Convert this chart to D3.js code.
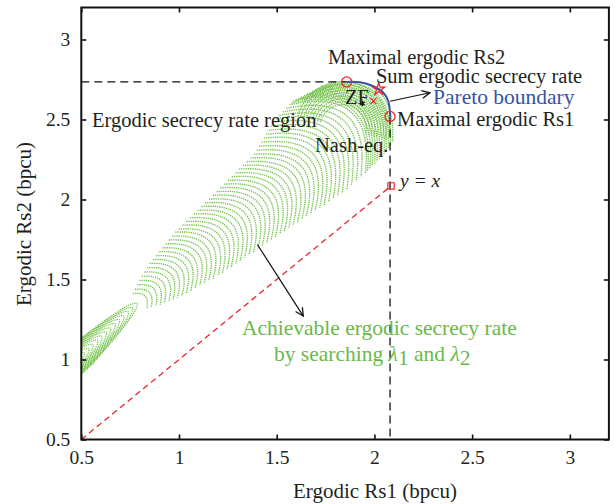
<!DOCTYPE html>
<html>
<head>
<meta charset="utf-8">
<script src="https://cdn.jsdelivr.net/npm/d3@7"></script>
<style>
body { margin: 0; background: #fff; }
text { font-family: "Liberation Serif", "Times New Roman", serif; fill: #231f20; }
</style>
</head>
<body>
<div id="chart"></div>
<script>
// ---- data ----
const xTicks = [0.5, 1, 1.5, 2, 2.5, 3];
const yTicks = [0.5, 1, 1.5, 2, 2.5, 3];

// apex of each dotted arc in the main lobe (Rs1, Rs2), its half width (bpcu) and tilt (deg)
const capX = [0.826,0.848,0.871,0.893,0.915,0.938,0.960,0.982,1.005,1.027,1.049,1.071,1.094,1.116,1.138,1.161,1.183,1.205,1.228,1.250,1.272,1.295,1.317,1.339,1.362,1.384,1.406,1.429,1.451,1.473,1.496,1.518,1.540,1.562,1.585,1.607,1.629,1.649,1.669,1.689,1.708,1.727,1.746,1.765,1.783,1.803,1.823,1.843,1.863,1.882,1.891,1.901,1.912,1.923,1.934,1.945,1.956,1.968,1.978,1.990,2.000,2.011];
const capY = [1.397,1.419,1.442,1.464,1.486,1.509,1.531,1.554,1.576,1.598,1.621,1.643,1.666,1.688,1.710,1.733,1.755,1.778,1.800,1.822,1.845,1.867,1.890,1.912,1.934,1.957,1.979,2.002,2.024,2.046,2.069,2.091,2.114,2.136,2.158,2.181,2.203,2.229,2.254,2.280,2.307,2.333,2.360,2.388,2.415,2.441,2.467,2.492,2.519,2.545,2.558,2.572,2.583,2.593,2.604,2.616,2.628,2.639,2.651,2.663,2.674,2.687];
const capW = [0.063,0.075,0.088,0.100,0.109,0.119,0.128,0.138,0.144,0.150,0.156,0.163,0.169,0.175,0.181,0.188,0.191,0.194,0.197,0.200,0.203,0.206,0.209,0.213,0.216,0.219,0.222,0.225,0.228,0.231,0.234,0.238,0.241,0.244,0.247,0.250,0.253,0.260,0.267,0.274,0.281,0.288,0.294,0.301,0.308,0.313,0.313,0.316,0.316,0.319,0.319,0.319,0.316,0.313,0.310,0.306,0.303,0.300,0.297,0.292,0.287,0.282];
const capTilt = [44,43,42,41,40,40,39,39,39,39,39,39,39,39,39,39,40,40,40,40,40,40,40,40,40,40,40,40,40,40,40,40,40,40,40,40,40,40.5,41,41.5,42,42.7,43.4,44,44.7,45.4,46,46.7,47.4,48,48.3,48.7,49,49.4,49.7,50,50.4,50.7,51,51.3,51.7,52];
// shape of one arc, in units of its half width (u along the lobe, v across it)
const capShapeU = [-0.7, -0.394, -0.175, -0.044, 0, -0.044, -0.175, -0.394, -0.7];
const capShapeV = [-1.0, -0.75, -0.5, -0.25, 0, 0.25, 0.5, 0.75, 1.0];

// arcs nested under the Pareto boundary: common centre and radii (bpcu)
const frontCenter = [1.839, 2.447];
const frontR = [0.290, 0.272, 0.254, 0.236, 0.218, 0.200, 0.182, 0.164, 0.146];

// tips of the nested arcs in the small fan at the lower left
const fanX = [0.785,0.763,0.740,0.718,0.695,0.673,0.650,0.628,0.605,0.583,0.560,0.538,0.515];
const fanY = [1.350,1.324,1.299,1.273,1.248,1.222,1.196,1.171,1.145,1.120,1.094,1.068,1.043];
const fanHalfWidth = 0.0875;
const fanShapeU = [-5.4, -3.04, -1.35, -0.34, 0, -0.34, -1.35, -3.04, -5.4];
const fanShapeV = [-1.0, -0.75, -0.5, -0.25, 0, 0.25, 0.5, 0.75, 1.0];

// Pareto boundary
const paretoX = [1.858, 1.926, 1.994, 2.046, 2.071, 2.080, 2.080];
const paretoY = [2.735, 2.733, 2.708, 2.667, 2.614, 2.542, 2.519];

const maxRs2 = [1.858, 2.735];
const maxRs1 = [2.080, 2.519];
const sumRate = [2.022, 2.690];
const zfPoint = [1.939, 2.588];
const nashPoint = [1.995, 2.615];
const equalPoint = [2.085, 2.085];

// ---- chart ----
const W = 615, H = 504;
const x = d3.scaleLinear([0.5, 3.2], [81.3, 608.9]);
const y = d3.scaleLinear([0.5, 3.2], [439.5, 7.5]);

const svg = d3.select("#chart").append("svg")
    .attr("width", W)
    .attr("height", H);

const defs = svg.append("defs");
defs.append("clipPath").attr("id", "plotArea")
    .append("rect")
    .attr("x", x(0.5)).attr("y", y(3.2))
    .attr("width", x(3.2) - x(0.5)).attr("height", y(0.5) - y(3.2));
defs.append("marker").attr("id", "arrow")
    .attr("viewBox", "0 0 10 10").attr("refX", 9).attr("refY", 5)
    .attr("markerWidth", 10).attr("markerHeight", 10)
    .attr("markerUnits", "userSpaceOnUse")
    .attr("orient", "auto")
    .append("path").attr("d", "M1,1 L9,5 L1,9")
    .attr("fill", "none").attr("stroke", "#111").attr("stroke-width", 1.3);

const plot = svg.append("g").attr("clip-path", "url(#plotArea)");

const green = "#72c14a";
const red = "#e8262d";
const curve = d3.line().curve(d3.curveCatmullRom);

function arcPath(cx, cy, ax, ay, wPx, shapeU, shapeV) {
    const px = -ay, py = ax;
    const pts = shapeU.map((u, i) => [
        cx + wPx * (u * ax + shapeV[i] * px),
        cy + wPx * (u * ay + shapeV[i] * py)
    ]);
    return curve(pts);
}

function dotted(sel) {
    return sel.attr("fill", "none")
        .attr("stroke", green)
        .attr("stroke-width", 1.35)
        .attr("stroke-dasharray", "1.3 0.9");
}

// main lobe arcs
capX.forEach((cx, k) => {
    const t = capTilt[k] * Math.PI / 180;
    const wPx = Math.abs(y(capW[k]) - y(0));
    dotted(plot.append("path")
        .attr("d", arcPath(x(cx), y(capY[k]), Math.cos(t), -Math.sin(t), wPx, capShapeU, capShapeV)));
});

// arcs under the Pareto boundary
frontR.forEach(r => {
    const p = d3.path();
    const rPx = Math.abs(y(r) - y(0));
    const a0 = -165 * Math.PI / 180, a1 = 15 * Math.PI / 180;
    const cx = x(frontCenter[0]), cy = y(frontCenter[1]);
    p.moveTo(cx + rPx * Math.cos(a0), cy + rPx * Math.sin(a0));
    p.arc(cx, cy, rPx, a0, a1);
    dotted(plot.append("path").attr("d", p.toString()));
});

// fan arcs
{
    const dx = x(fanX[0]) - x(fanX[fanX.length - 1]);
    const dy = y(fanY[0]) - y(fanY[fanY.length - 1]);
    const len = Math.hypot(dx, dy);
    const wPx = Math.abs(y(fanHalfWidth) - y(0));
    fanX.forEach((fx, j) => {
        plot.append("path")
            .attr("d", arcPath(x(fx), y(fanY[j]), dx / len, dy / len, wPx, fanShapeU, fanShapeV))
            .attr("fill", "none")
            .attr("stroke", green)
            .attr("stroke-width", 1.2)
            .attr("stroke-dasharray", "1.2 1");
    });
}

// y = x line
plot.append("line")
    .attr("x1", x(0.5)).attr("y1", y(0.5))
    .attr("x2", x(equalPoint[0])).attr("y2", y(equalPoint[1]))
    .attr("stroke", red).attr("stroke-width", 1.3)
    .attr("stroke-dasharray", "6 4");

// black dashed guides
plot.append("line")
    .attr("x1", x(0.5)).attr("y1", y(maxRs2[1]))
    .attr("x2", x(maxRs2[0])).attr("y2", y(maxRs2[1]))
    .attr("stroke", "#111").attr("stroke-width", 1.3)
    .attr("stroke-dasharray", "8 5");
plot.append("line")
    .attr("x1", x(maxRs1[0])).attr("y1", y(maxRs1[1]))
    .attr("x2", x(maxRs1[0])).attr("y2", y(0.5))
    .attr("stroke", "#111").attr("stroke-width", 1.3)
    .attr("stroke-dasharray", "8 5");

// Pareto boundary
plot.append("path")
    .attr("d", d3.line().x(d => x(d[0])).y(d => y(d[1])).curve(d3.curveCatmullRom)(paretoX.map((v, i) => [v, paretoY[i]])))
    .attr("fill", "none").attr("stroke", "#3553a5").attr("stroke-width", 2);

// markers
[maxRs2, maxRs1].forEach(p => {
    plot.append("circle").attr("cx", x(p[0])).attr("cy", y(p[1])).attr("r", 5)
        .attr("fill", "none").attr("stroke", red).attr("stroke-width", 1.3);
});
plot.append("path").attr("d", d3.symbol(d3.symbolStar, 45)())
    .attr("transform", `translate(${x(sumRate[0])},${y(sumRate[1])})`)
    .attr("fill", "none").attr("stroke", red).attr("stroke-width", 1.3);
plot.append("path").attr("d", d3.symbol(d3.symbolTimes, 25)())
    .attr("transform", `translate(${x(nashPoint[0])},${y(nashPoint[1])})`)
    .attr("fill", "none").attr("stroke", red).attr("stroke-width", 1.2);
plot.append("path").attr("d", d3.symbol(d3.symbolPlus, 55)())
    .attr("transform", `translate(${x(zfPoint[0])},${y(zfPoint[1])})`)
    .attr("fill", red);
plot.append("path").attr("d", d3.symbol(d3.symbolAsterisk, 18)())
    .attr("transform", `translate(${x(zfPoint[0])},${y(zfPoint[1]) - 2})`)
    .attr("fill", "none").attr("stroke", "#111").attr("stroke-width", 1.2);
plot.append("path").attr("d", d3.symbol(d3.symbolSquare, 40)())
    .attr("transform", `translate(${x(equalPoint[0])},${y(equalPoint[1])})`)
    .attr("fill", "none").attr("stroke", red).attr("stroke-width", 1.2);

// arrows
svg.append("line")
    .attr("x1", x(2.08)).attr("y1", y(2.614))
    .attr("x2", x(2.284)).attr("y2", y(2.667))
    .attr("stroke", "#111").attr("stroke-width", 1.2)
    .attr("marker-end", "url(#arrow)");
svg.append("line")
    .attr("x1", x(1.401)).attr("y1", y(1.719))
    .attr("x2", x(1.636)).attr("y2", y(1.271))
    .attr("stroke", "#111").attr("stroke-width", 1.2)
    .attr("marker-end", "url(#arrow)");

// axes
const tickFont = 19.5;
const xAxis = svg.append("g")
    .attr("transform", `translate(0,${y(0.5)})`)
    .call(d3.axisBottom(x).tickValues(xTicks).tickSize(-5).tickPadding(11).tickFormat(d => d));
const yAxis = svg.append("g")
    .attr("transform", `translate(${x(0.5)},0)`)
    .call(d3.axisLeft(y).tickValues(yTicks).tickSize(-5).tickPadding(11).tickFormat(d => d));
const topAxis = svg.append("g")
    .attr("transform", `translate(0,${y(3.2)})`)
    .call(d3.axisTop(x).tickValues(xTicks).tickSize(-5).tickFormat(""));
const rightAxis = svg.append("g")
    .attr("transform", `translate(${x(3.2)},0)`)
    .call(d3.axisRight(y).tickValues(yTicks).tickSize(-5).tickFormat(""));
[xAxis, yAxis, topAxis, rightAxis].forEach(a => {
    a.select(".domain").remove();
    a.selectAll(".tick line").attr("stroke", "#111").attr("stroke-width", 1.6);
    a.selectAll(".tick text")
        .style("font-family", "'Liberation Serif', serif")
        .attr("font-size", tickFont).attr("fill", "#231f20");
});

svg.append("rect")
    .attr("x", x(0.5)).attr("y", y(3.2))
    .attr("width", x(3.2) - x(0.5)).attr("height", y(0.5) - y(3.2))
    .attr("fill", "none").attr("stroke", "#111").attr("stroke-width", 2);

// axis titles
svg.append("text")
    .attr("x", 375).attr("y", 498)
    .attr("text-anchor", "middle").attr("font-size", 21)
    .text("Ergodic Rs1 (bpcu)");
svg.append("text")
    .attr("transform", "translate(31,224) rotate(-90)")
    .attr("text-anchor", "middle").attr("font-size", 21)
    .text("Ergodic Rs2 (bpcu)");

// annotations
const noteFont = 20.5;
const labels = [
    { t: "Maximal ergodic Rs2", x: 1.7625, y: 2.847 },
    { t: "Sum ergodic secrecy rate", x: 2.008, y: 2.728 },
    { t: "Maximal ergodic Rs1", x: 2.116, y: 2.459 },
    { t: "Nash-eq.", x: 1.696, y: 2.297 },
    { t: "ZF", x: 1.849, y: 2.597 },
    { t: "Ergodic secrecy rate region", x: 0.555, y: 2.453 }
];
labels.forEach(l => {
    svg.append("text").attr("x", x(l.x)).attr("y", y(l.y))
        .attr("font-size", noteFont).text(l.t);
});
svg.append("text").attr("x", x(2.300)).attr("y", y(2.595))
    .attr("font-size", 21.5).style("fill", "#3553a5").text("Pareto boundary");

svg.append("text").attr("x", x(2.131)).attr("y", y(2.078))
    .attr("font-size", 19.5).attr("font-style", "italic").text("y = x");

const gText = "#6ab94a";
svg.append("text").attr("x", x(1.322)).attr("y", y(1.153))
    .attr("font-size", 21.5).style("fill", gText)
    .text("Achievable ergodic secrecy rate");
const l2 = svg.append("text").attr("x", x(1.486)).attr("y", y(0.991))
    .attr("font-size", 21.5).style("fill", gText);
l2.append("tspan").text("by searching ");
l2.append("tspan").attr("font-style", "italic").text("λ");
l2.append("tspan").attr("dy", 4).text("1");
l2.append("tspan").attr("dy", -4).text(" and ");
l2.append("tspan").attr("font-style", "italic").text("λ");
l2.append("tspan").attr("dy", 4).text("2");
</script>
</body>
</html>
